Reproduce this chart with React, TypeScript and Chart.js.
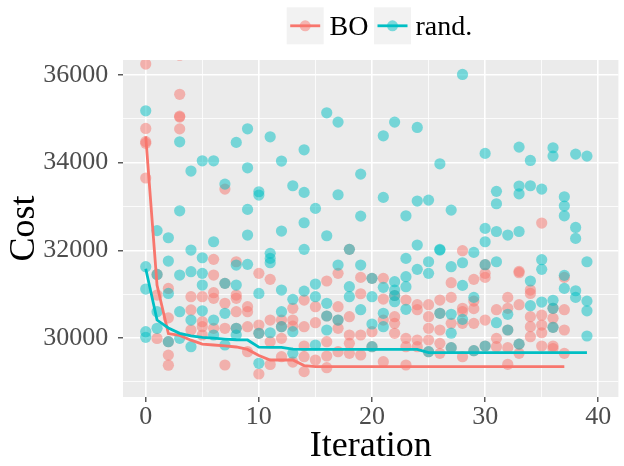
import React, { useEffect, useRef } from "react";
import { Chart, registerables } from "chart.js";

Chart.register(...registerables);

// ---- data (index = iteration) ----
const boCosts: number[][] = [
  [36250, 34780, 34480, 34440, 33650],
  [31450, 30980, 29990],
  [31130, 30460, 29916, 29610, 29380],
  [36450, 35560, 35060, 35040, 34770],
  [30942, 30640, 30182],
  [30942, 30372, 30258, 30068],
  [31794, 31436, 31033, 30905, 30221],
  [33397, 31247, 30791, 30221, 29384],
  [31740, 30980, 30905, 30600, 30221],
  [30714, 30600, 30258, 29688],
  [31475, 30295, 30107, 29179],
  [31338, 30410, 29916, 29397],
  [30410, 30258, 29992, 29574],
  [30677, 30410, 30270, 29450],
  [30866, 30258, 29818, 29574, 29232],
  [30714, 30349, 29498],
  [31300, 30502, 29916, 29589, 29323],
  [31475, 30714, 30410, 30221, 29688],
  [32022, 30486, 30068, 29878, 29650],
  [31383, 31010, 30068, 29612],
  [31361, 30144, 29802],
  [31361, 30889, 30410, 29460],
  [30970, 30486, 30334, 30107],
  [30866, 29992, 29802, 29384],
  [30760, 30646, 29954, 29802],
  [30760, 30486, 30221, 29954, 29688],
  [30866, 30563, 30182, 29878, 29650],
  [31261, 30926, 30334, 29780],
  [31991, 30677, 30600, 30334, 29574],
  [31338, 30842, 30670, 30334, 29710],
  [31672, 31475, 31383, 30410, 29818],
  [30646, 29992, 29802],
  [30926, 30677, 30182, 29780, 29400],
  [31520, 31490, 30760, 29860, 29650],
  [31094, 31017, 30486, 30258, 30030],
  [32622, 30520, 30295, 30120, 29818],
  [30677, 30450, 30243, 29818, 29760],
  [31383, 30646, 30182, 29650],
];

const randCosts: number[][] = [
  [35183, 31626, 31117, 30144, 30016],
  [32450, 31450, 30600, 30221],
  [32287, 31756, 31017, 29916],
  [34476, 32902, 31436, 30600, 29992],
  [33808, 32006, 31512, 30410, 29802],
  [34043, 31831, 31475, 31208, 30620],
  [34043, 32196, 30410, 30068],
  [33511, 31247, 30563, 29840],
  [34462, 31664, 31208, 30221, 30068],
  [34772, 33883, 32934, 32348, 31680],
  [33336, 33260, 31017, 30107, 29423],
  [34590, 31931, 31816, 31718, 30120],
  [34036, 32440, 31094, 30600, 30258],
  [33473, 30882, 30144, 29650],
  [34293, 33322, 32629, 32022, 31070],
  [32957, 31231, 30942, 29840],
  [35137, 32333, 30791, 30502, 30182],
  [34925, 33268, 31664, 30410],
  [32022, 31170, 30942],
  [33739, 32781, 31664, 30646],
  [31361, 30942, 30319, 29802],
  [34613, 33208, 31155, 30563, 30258],
  [34925, 31284, 31094, 30970, 30828],
  [32788, 31816, 31398, 31170, 30654],
  [34804, 33124, 32120, 31566],
  [33146, 31740, 31475, 29688],
  [33974, 32006, 32020, 30563],
  [32918, 31626, 30540, 30110, 29780],
  [36012, 31717, 31200, 30425],
  [31953, 30926, 29710],
  [34211, 32500, 32196, 31672, 29818],
  [33345, 33063, 32430, 31740, 30349],
  [32348, 30540, 30182],
  [34355, 33466, 33290, 32430, 29860],
  [34051, 33473, 31300, 30737],
  [33397, 31786, 31566, 30820],
  [34340, 34150, 30860, 30677, 30243],
  [33222, 33010, 32788, 31429, 31132],
  [34195, 32522, 32272, 31078, 30926],
  [34150, 31740, 30842, 30620, 30046],
];

const boLine: number[] = [
  34600, 31200, 30100, 30060, 29950, 29860, 29840, 29818, 29795, 29740,
  29600, 29498, 29498, 29498, 29370, 29346, 29346, 29346, 29346, 29346,
  29346, 29346, 29346, 29346, 29346, 29346, 29346, 29346, 29346, 29346,
  29346, 29346, 29346, 29346, 29346, 29346, 29346, 29346,
];

const randLine: number[] = [
  31580, 30410, 30230, 30107, 30046, 30015, 29995, 29975, 29960, 29955,
  29790, 29787, 29787, 29745, 29742, 29742, 29742, 29742, 29742, 29742,
  29742, 29742, 29742, 29742, 29742, 29665, 29665, 29665, 29665, 29665,
  29665, 29665, 29665, 29665, 29665, 29665, 29665, 29665, 29665, 29665,
];

const seriesNames = ["BO", "rand."];
const xMajor = [0, 10, 20, 30, 40];
const xMinor = [5, 15, 25, 35];
const yMajor = [30000, 32000, 34000, 36000];
const yMinor = [29000, 31000, 33000, 35000];

const RED = "#F8766D";
const CYAN = "#00BFC4";
const RED_A = "rgba(248,118,109,0.5)";
const CYAN_A = "rgba(0,191,196,0.5)";
const FONT = "'Liberation Serif', 'Times New Roman', serif";

const toPts = (rows: number[][]) =>
  rows.flatMap((vals, i) => vals.map((v) => ({ x: i, y: v })));
const toLine = (vals: number[]) => vals.map((v, i) => ({ x: i, y: v }));

const panelPlugin = {
  id: "panelBg",
  beforeDraw(chart: any) {
    const { ctx, chartArea: a } = chart;
    ctx.save();
    ctx.fillStyle = "#EBEBEB";
    ctx.fillRect(a.left, a.top, a.right - a.left, a.bottom - a.top);
    ctx.restore();
  },
};

const legendPlugin = {
  id: "ggLegend",
  afterDraw(chart: any) {
    const { ctx } = chart;
    const items = [
      { name: seriesNames[0], line: RED, fill: RED_A, bx: 286.7, tx: 329.5 },
      { name: seriesNames[1], line: CYAN, fill: CYAN_A, bx: 374, tx: 415.5 },
    ];
    ctx.save();
    for (const it of items) {
      const size = 37;
      const by = 7.3;
      ctx.fillStyle = "#F2F2F2";
      ctx.fillRect(it.bx, by, size, size);
      const cy = by + size / 2;
      ctx.strokeStyle = it.line;
      ctx.lineWidth = 2.8;
      ctx.beginPath();
      ctx.moveTo(it.bx + 3.5, cy);
      ctx.lineTo(it.bx + size - 3.5, cy);
      ctx.stroke();
      ctx.fillStyle = it.fill;
      ctx.beginPath();
      ctx.arc(it.bx + size / 2, cy, 5.5, 0, Math.PI * 2);
      ctx.fill();
      ctx.fillStyle = "#000";
      ctx.font = `28px ${FONT}`;
      ctx.textBaseline = "alphabetic";
      ctx.textAlign = "left";
      ctx.fillText(it.name, it.tx, 34.5);
    }
    ctx.restore();
  },
};

export default function App() {
  const ref = useRef<HTMLCanvasElement | null>(null);

  useEffect(() => {
    document.body.style.margin = "0";
    const canvas = ref.current;
    if (!canvas) return;
    const chart = new Chart(canvas, {
      type: "scatter",
      data: {
        datasets: [
          {
            type: "line",
            label: "rand. line",
            data: toLine(randLine),
            borderColor: CYAN,
            borderWidth: 2.8,
            pointRadius: 0,
            fill: false,
            tension: 0,
            order: 0,
            clip: 0,
          } as any,
          {
            type: "line",
            label: "BO line",
            data: toLine(boLine),
            borderColor: RED,
            borderWidth: 2.8,
            pointRadius: 0,
            fill: false,
            tension: 0,
            order: 1,
            clip: 0,
          } as any,
          {
            label: seriesNames[1],
            data: toPts(randCosts),
            backgroundColor: CYAN_A,
            borderWidth: 0,
            pointRadius: 5.6,
            order: 2,
            clip: 0,
          },
          {
            label: seriesNames[0],
            data: toPts(boCosts),
            backgroundColor: RED_A,
            borderWidth: 0,
            pointRadius: 5.6,
            order: 3,
            clip: 0,
          },
        ],
      },
      options: {
        responsive: false,
        animation: false,
        devicePixelRatio: 1,
        layout: { padding: { top: 60, right: 0, bottom: 0, left: 0 } },
        plugins: {
          legend: { display: false },
          tooltip: { enabled: false },
        },
        scales: {
          x: {
            type: "linear",
            min: -2.01,
            max: 41.78,
            afterBuildTicks: (s: any) => {
              s.ticks = [...xMajor, ...xMinor]
                .sort((a, b) => a - b)
                .map((v) => ({ value: v }));
            },
            afterFit: (s: any) => {
              s.height = 69;
            },
            ticks: {
              autoSkip: false,
              maxRotation: 0,
              padding: 0,
              color: "#4D4D4D",
              font: { family: FONT, size: 26 },
              callback: (v: any) => (xMajor.includes(Number(v)) ? String(v) : ""),
            },
            grid: {
              color: "#FFFFFF",
              lineWidth: (c: any) =>
                c.tick && xMajor.includes(c.tick.value) ? 1.6 : 0.8,
              tickColor: (c: any) =>
                c.tick && xMajor.includes(c.tick.value) ? "#333333" : "rgba(0,0,0,0)",
              tickLength: 5,
              tickWidth: 1.2,
            },
            border: { display: false },
            title: {
              display: true,
              text: "Iteration",
              color: "#000",
              font: { family: FONT, size: 36, lineHeight: 1.1 },
              padding: { top: 0, bottom: 0 },
            },
          },
          y: {
            type: "linear",
            min: 28654,
            max: 36342,
            afterBuildTicks: (s: any) => {
              s.ticks = [...yMajor, ...yMinor]
                .sort((a, b) => a - b)
                .map((v) => ({ value: v }));
            },
            afterFit: (s: any) => {
              s.width = 123;
            },
            ticks: {
              autoSkip: false,
              padding: 9.7,
              color: "#4D4D4D",
              font: { family: FONT, size: 26 },
              callback: (v: any) => (yMajor.includes(Number(v)) ? String(v) : ""),
            },
            grid: {
              color: "#FFFFFF",
              lineWidth: (c: any) =>
                c.tick && yMajor.includes(c.tick.value) ? 1.6 : 0.8,
              tickColor: (c: any) =>
                c.tick && yMajor.includes(c.tick.value) ? "#333333" : "rgba(0,0,0,0)",
              tickLength: 5,
              tickWidth: 1.2,
            },
            border: { display: false },
            title: {
              display: true,
              text: "Cost",
              color: "#000",
              font: { family: FONT, size: 36, lineHeight: 1.1 },
              padding: { top: 4.7, bottom: 0 },
            },
          },
        },
      },
      plugins: [panelPlugin, legendPlugin],
    });
    return () => chart.destroy();
  }, []);

  return (
    <div style={{ width: 624, height: 466, position: "relative" }}>
      <canvas ref={ref} width={624} height={466} style={{ display: "block" }} />
    </div>
  );
}
